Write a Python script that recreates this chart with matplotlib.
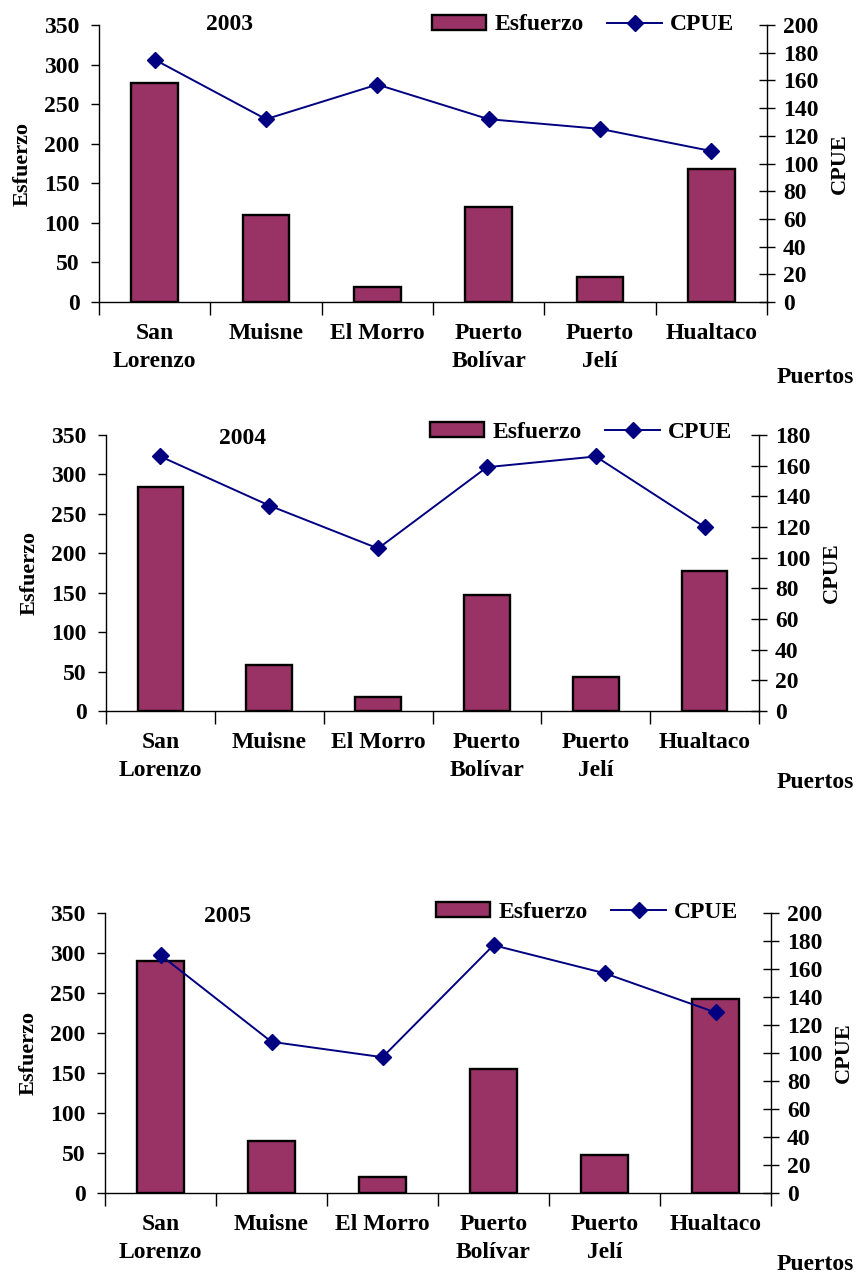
import numpy as np
import matplotlib.pyplot as plt
from matplotlib.patches import Patch
from matplotlib.lines import Line2D

plt.rcParams['font.family'] = ['Liberation Serif', 'DejaVu Serif']
plt.rcParams['font.weight'] = 'bold'

puertos = ["San\nLorenzo", "Muisne", "El Morro", "Puerto\nBolívar", "Puerto\nJelí", "Hualtaco"]
years = ["2003", "2004", "2005"]

esfuerzo_2003 = [277, 110, 19, 120, 32, 168]
cpue_2003 = [175, 132, 157, 132, 125, 109]

esfuerzo_2004 = [284, 58, 18, 147, 43, 177]
cpue_2004 = [166, 134, 106, 159, 166, 120]

esfuerzo_2005 = [290, 65, 20, 155, 47, 243]
cpue_2005 = [170, 108, 97, 177, 157, 129]

cpue_max = [200, 180, 200]

BAR = "#993366"
LINE = "#000080"
FS = 17

W, H = 860, 1275
# axes boxes in pixels: left, right, top, bottom
boxes = [(99, 767, 25, 302), (106, 759, 435, 711), (105, 771, 913, 1193)]
legend_pos = [(432, 25), (430, 432), (436, 912)]
title_pos = [(230, 25), (243, 438), (228, 917)]
puertos_y = [378, 783, 1265]

fig = plt.figure(figsize=(W / 100, H / 100), dpi=100)

data = [(esfuerzo_2003, cpue_2003), (esfuerzo_2004, cpue_2004), (esfuerzo_2005, cpue_2005)]
x = np.arange(len(puertos))

for i, (esf, cpue) in enumerate(data):
    l, r, t, b = boxes[i]
    ax = fig.add_axes([l / W, 1 - b / H, (r - l) / W, (b - t) / H])
    ax2 = ax.twinx()

    ax.bar(x, esf, width=0.42, color=BAR, edgecolor="black", linewidth=1.7, zorder=2)
    ax2.plot(x, cpue, color=LINE, lw=1.4, marker="D", markersize=8.5, zorder=3)

    ax.set_xlim(-0.5, len(puertos) - 0.5)
    ax.set_ylim(0, 350)
    ax2.set_ylim(0, cpue_max[i])
    ax.set_yticks(np.arange(0, 351, 50))
    ax2.set_yticks(np.arange(0, cpue_max[i] + 1, 20))

    for a in (ax, ax2):
        a.spines["top"].set_visible(False)
        a.patch.set_visible(False)
    ax.spines["right"].set_visible(False)
    ax2.spines["left"].set_visible(False)
    ax2.spines["bottom"].set_visible(False)
    for a in (ax, ax2):
        for s in a.spines.values():
            s.set_linewidth(1.0)

    # category boundaries get the tick marks, names sit in between
    ax.set_xticks(np.arange(-0.5, len(puertos)), labels=[])
    ax.set_xticks(x, labels=puertos, minor=True)
    ax.tick_params(axis="x", which="major", direction="out", length=9, width=1.0)
    ax.tick_params(axis="x", which="minor", length=0, pad=15, labelsize=FS)
    for lab in ax.get_xticklabels(minor=True):
        lab.set_fontweight("bold")
        lab.set_linespacing(1.45)
        lab.set_verticalalignment("top")

    ax.tick_params(axis="y", direction="out", length=6, width=1.0, pad=8, labelsize=FS)
    ax2.tick_params(axis="y", direction="inout", length=11, width=1.0, pad=6, labelsize=FS)

    ax.set_ylabel("Esfuerzo", fontsize=16, fontweight="bold", labelpad=8)
    ax2.set_ylabel("CPUE", fontsize=16, fontweight="bold", labelpad=8)

    tx, ty = title_pos[i]
    fig.text(tx / W, 1 - ty / H, years[i], fontsize=FS, fontweight="bold",
             ha="center", va="center")
    fig.text(815 / W, 1 - puertos_y[i] / H, "Puertos", fontsize=FS, fontweight="bold",
             ha="center", va="center")

    handles = [Patch(facecolor=BAR, edgecolor="black", linewidth=1.7),
               Line2D([], [], color=LINE, lw=1.4, marker="D", markersize=8.5)]
    lx, ly = legend_pos[i]
    ax.legend(handles, ["Esfuerzo", "CPUE"], ncol=2, frameon=False,
              loc="center left", bbox_to_anchor=(lx / W, 1 - ly / H),
              bbox_transform=fig.transFigure, fontsize=FS,
              handlelength=2.3, handleheight=0.6, handletextpad=0.35,
              columnspacing=1.0, borderpad=0, borderaxespad=0)

fig.savefig("out.png", dpi=100)
